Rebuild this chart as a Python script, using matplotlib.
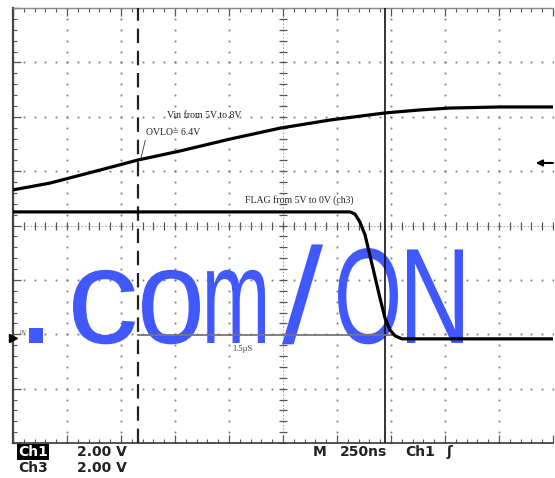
import numpy as np
import matplotlib.pyplot as plt
from matplotlib import patheffects
from matplotlib.transforms import Affine2D
from matplotlib.textpath import TextPath
from matplotlib.font_manager import FontProperties

# scope settings
volts_per_div = 2.0
ns_per_div = 250
ch1_offset = -1.82      # divisions
ch3_offset = -2.07

# Ch1: Vin ramp 5V -> 8V
t_vin = [0, 171, 403, 579, 773, 1005, 1236, 1468, 1722, 1884, 2023, 2255, 2500]
v_vin = [4.95, 5.20, 5.68, 6.05, 6.38, 6.82, 7.22, 7.52, 7.78, 7.89, 7.96, 8.00, 8.00]

# Ch3: FLAG 5V -> 0V
t_flag = [0, 1560, 1583, 1606, 1630, 1653, 1676, 1699, 1722, 1745, 1769, 1801, 2500]
v_flag = [4.64, 4.64, 4.56, 4.27, 3.79, 3.02, 2.25, 1.47, 0.74, 0.30, 0.08, -0.03, -0.03]

t_ovlo = 579        # dashed cursor
t_cursor = 1722     # solid cursor
trig_level = 5.94   # ch1 trigger level (V)
ref_level = 0.11    # ch3 gray reference line (V)
t_ref_end = 1755

# watermark glyphs: ink left/right edge in image pixels
wm_chars = ['.', 'c', 'o', 'm', '/', 'O', 'N']
wm_left = [29, 73, 142, 207, 282, 338, 407]
wm_right = [43, 135, 200, 265, 323, 398, 463]
wm_baseline = 343
wm_em = 136   # pixels

W, H = 555, 478
DPI = 100
fig = plt.figure(figsize=(W / DPI, H / DPI), dpi=DPI)
ax = fig.add_axes([13 / W, 35 / H, 540 / W, 435 / H])
ax.set_xlim(0, 10 * ns_per_div)
ax.set_ylim(-4, 4)


def fpx(x, y):
    # image pixel -> figure fraction
    return x / W, 1 - y / H


def ch1(v):
    return np.asarray(v) / volts_per_div + ch1_offset


def ch3(v):
    return np.asarray(v) / volts_per_div + ch3_offset


class Squeeze(patheffects.AbstractPathEffect):
    """Scale glyphs horizontally about a fixed x (display pixels)."""

    def __init__(self, sx, x0):
        super().__init__()
        self.sx, self.x0 = sx, x0

    def draw_path(self, renderer, gc, tpath, affine, rgbFace=None):
        sq = Affine2D().translate(-self.x0, 0).scale(self.sx, 1).translate(self.x0, 0)
        renderer.draw_path(gc, tpath, affine + sq, rgbFace)


# graticule dots
ydots = np.arange(-4, 4.001, 0.2)
xdots = np.arange(0, 2500.1, 50)
for k in range(1, 10):
    if k == 5:
        continue
    ax.plot(np.full_like(ydots, k * ns_per_div), ydots, ls='none', marker='s',
            ms=1.3, mfc='#777777', mec='none', zorder=1)
for j in range(-3, 4):
    if j == 0:
        continue
    ax.plot(xdots, np.full_like(xdots, j), ls='none', marker='s',
            ms=1.3, mfc='#777777', mec='none', zorder=1)

# centre axes with ticks
ax.axhline(0, color='#999999', lw=0.7, ls=(0, (1.5, 2)), zorder=1)
ax.axvline(1250, color='#999999', lw=0.7, ls=(0, (1.5, 2)), zorder=1)
ax.plot(xdots, np.zeros_like(xdots), ls='none', marker='|', ms=6, mew=0.9,
        color='#555555', zorder=1)
ax.plot(np.full_like(ydots, 1250), ydots, ls='none', marker='_', ms=6, mew=0.9,
        color='#555555', zorder=1)

# border ticks
ax.set_xticks(np.arange(0, 2501, ns_per_div))
ax.set_xticks(xdots, minor=True)
ax.set_yticks(np.arange(-4, 5, 1))
ax.set_yticks(ydots, minor=True)
ax.tick_params(which='both', direction='in', top=True, right=False,
               labelbottom=False, labelleft=False, color='#555555')
ax.tick_params(which='major', length=6, width=0.9)
ax.tick_params(which='minor', length=3, width=0.8)
ax.spines['right'].set_visible(False)
ax.spines['left'].set_color('#444444')
ax.spines['left'].set_linewidth(1.6)
ax.spines['bottom'].set_color('#444444')
ax.spines['bottom'].set_linewidth(1.3)
ax.spines['top'].set_color('#888888')
ax.spines['top'].set_linewidth(1.0)

# watermark (real text, each glyph squeezed to its box)
wm_font = FontProperties(family='Liberation Sans')
for ch, left, right in zip(wm_chars, wm_left, wm_right):
    ext = TextPath((0, 0), ch, size=1, prop=wm_font).get_extents()
    ink_l, ink_w = ext.x0 * wm_em, ext.width * wm_em
    sx = (right - left) / ink_w
    x_origin = left - sx * ink_l
    ax.text(*fpx(x_origin, wm_baseline), ch, transform=fig.transFigure,
            ha='left', va='baseline', fontproperties=wm_font,
            fontsize=wm_em * 72 / DPI, color='#4158ff', zorder=2,
            path_effects=[Squeeze(sx, x_origin)])

# cursors
ax.axvline(t_ovlo, color='#222222', lw=1.6, dashes=(6.5, 3.5), zorder=3)
ax.axvline(t_cursor, color='#111111', lw=1.2, zorder=3)

# traces
ax.plot([t_ovlo, t_ref_end], ch3([ref_level, ref_level]), color='#777777',
        lw=1.3, zorder=3)
ax.plot(t_vin, ch1(v_vin), color='k', lw=2.3, zorder=4)
ax.plot(t_flag, ch3(v_flag), color='k', lw=2.3, zorder=4)

# ground / trigger markers
ax.plot([0], ch3([0]), marker='>', ms=6, color='k', clip_on=False, zorder=5)
ax.annotate('', xy=(2420, ch1(trig_level)), xytext=(2500, ch1(trig_level)),
            arrowprops=dict(arrowstyle='-|>', color='k', lw=1.5,
                            mutation_scale=9, shrinkA=0, shrinkB=0),
            annotation_clip=False, zorder=5)

# annotations
serif = dict(family='Liberation Serif', fontsize=7, color='#222222')
fig.text(*fpx(167, 115), 'Vin from 5V to 8V', va='center', **serif)
ax.annotate('OVLO= 6.4V', xy=(t_ovlo + 12, ch1(6.07)), xycoords='data',
            xytext=fpx(146, 133), textcoords='figure fraction', va='center',
            arrowprops=dict(arrowstyle='-', lw=0.6, color='#333333',
                            shrinkA=0, shrinkB=0, relpos=(0, 0)),
            zorder=5, **serif)
fig.text(*fpx(245, 200), 'FLAG from 5V to 0V (ch3)', va='center', **serif)
fig.text(*fpx(242, 349), '1.5\u00b5S', ha='center', va='center',
         family='Liberation Serif', fontsize=6, color='#444444')
fig.text(*fpx(24, 333), '0V', ha='center', va='center',
         family='Liberation Serif', fontsize=4.5, color='#555555')

# scope readout
mono = dict(family='DejaVu Sans', fontweight='bold', fontsize=10,
            color='#222222', va='center')
fig.text(*fpx(18, 452), 'Ch1', color='white', va='center', family='DejaVu Sans',
         fontweight='bold', fontsize=10,
         bbox=dict(boxstyle='square,pad=0.1', fc='black', ec='none'))
fig.text(*fpx(77, 452), '2.00 V', **mono)
fig.text(*fpx(18, 468), 'Ch3', **mono)
fig.text(*fpx(77, 468), '2.00 V', **mono)
fig.text(*fpx(313, 452), 'M', **mono)
fig.text(*fpx(340, 452), '250ns', **mono)
fig.text(*fpx(405, 452), 'Ch1', **mono)
fig.text(*fpx(447, 452), '\u0283', **mono)

fig.savefig('out.png', dpi=DPI, facecolor='white')
